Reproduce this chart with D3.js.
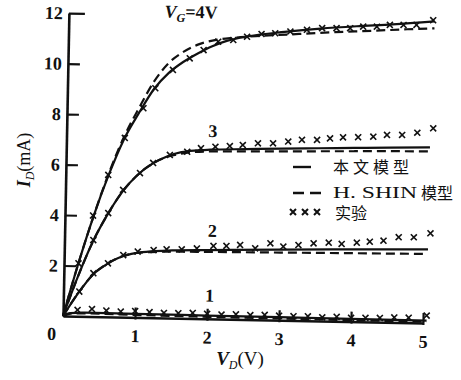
<!DOCTYPE html>
<html>
<head>
<meta charset="utf-8">
<script src="https://cdn.jsdelivr.net/npm/d3@7"></script>
<style>
  body { margin: 0; background: #fff; }
  svg { display: block; }
  text { font-family: "Liberation Serif", "DejaVu Serif", serif; fill: #111; }
  .cjk { font-family: "Noto Sans CJK SC", "Noto Sans CJK JP", sans-serif; }
</style>
</head>
<body>
<svg id="chart" width="461" height="380"></svg>
<script>
// ticks
const xTicks = [1, 2, 3, 4, 5];
const yTicks = [2, 4, 6, 8, 10, 12];

// V_G = 4V   [V_D, I_D]
const model4 = [[0,0],[0.2,2.1],[0.4,4.0],[0.6,5.65],[0.8,7.05],[1.0,8.1],[1.2,9.05],[1.4,9.7],[1.6,10.15],[1.8,10.5],[2.0,10.8],[2.2,11.02],[2.5,11.22],[3.0,11.42],[3.5,11.58],[4.0,11.7],[4.5,11.8],[5.08,11.95]];
const shin4 = [[0,0],[0.2,2.1],[0.4,4.0],[0.6,5.7],[0.8,7.15],[1.0,8.3],[1.2,9.35],[1.4,10.1],[1.6,10.55],[1.8,10.85],[2.0,11.02],[2.3,11.15],[2.7,11.25],[3.2,11.35],[3.7,11.45],[4.2,11.53],[4.7,11.62],[5.08,11.68]];
const exp4 = [[0.2,2.1],[0.39,4.0],[0.59,5.62],[0.81,7.1],[1.06,8.29],[1.22,9.09],[1.46,9.83],[1.69,10.3],[1.88,10.64],[2.08,10.98],[2.29,11.06],[2.48,11.2],[2.68,11.32],[2.87,11.36],[3.08,11.44],[3.31,11.52],[3.52,11.6],[3.72,11.61],[3.91,11.62],[4.09,11.69],[4.28,11.7],[4.46,11.78],[4.65,11.79],[4.83,11.8],[5.06,12.0]];

// curve 3
const model3 = [[0,0],[0.2,1.6],[0.4,3.0],[0.6,4.1],[0.8,5.0],[1.0,5.65],[1.2,6.1],[1.4,6.4],[1.6,6.58],[1.8,6.66],[2.0,6.7],[2.5,6.75],[3.0,6.8],[3.5,6.84],[4.0,6.88],[4.5,6.92],[5.05,6.96]];
const shin3 = [[0,0],[0.2,1.6],[0.4,3.0],[0.6,4.1],[0.8,5.0],[1.0,5.65],[1.2,6.1],[1.4,6.38],[1.6,6.52],[1.8,6.6],[2.0,6.63],[2.5,6.66],[3.0,6.69],[3.5,6.72],[4.0,6.75],[4.5,6.78],[5.05,6.8]];
const exp3 = [[0.4,3.03],[0.6,4.11],[0.8,5.04],[1.03,5.72],[1.21,6.13],[1.44,6.46],[1.68,6.6],[1.87,6.75],[2.07,6.82],[2.27,6.86],[2.45,6.91],[2.66,6.99],[2.87,7.0],[3.08,7.08],[3.27,7.16],[3.48,7.17],[3.66,7.24],[3.84,7.29],[4.05,7.31],[4.26,7.34],[4.45,7.42],[4.66,7.43],[4.87,7.53],[5.09,7.72]];

// curve 2
const model2 = [[0,0],[0.2,0.9],[0.4,1.65],[0.6,2.1],[0.8,2.4],[1.0,2.55],[1.2,2.63],[1.5,2.68],[2.0,2.72],[3.0,2.8],[4.0,2.86],[5.05,2.92]];
const shin2 = [[0,0],[0.2,0.9],[0.4,1.65],[0.6,2.1],[0.8,2.4],[1.0,2.55],[1.2,2.6],[1.5,2.63],[2.0,2.65],[3.0,2.68],[4.0,2.71],[5.05,2.74]];
const exp2 = [[0.22,0.98],[0.41,1.72],[0.61,2.12],[0.82,2.46],[1.02,2.61],[1.24,2.68],[1.42,2.72],[1.63,2.73],[1.84,2.78],[2.07,2.89],[2.25,2.9],[2.44,2.95],[2.65,2.83],[2.86,3.04],[3.04,2.92],[3.25,2.99],[3.46,3.07],[3.67,3.11],[3.85,3.07],[4.06,3.13],[4.24,3.18],[4.43,3.23],[4.64,3.38],[4.85,3.39],[5.08,3.56]];

// curve 1
const model1 = [[0,0],[0.1,0.12],[0.3,0.15],[1,0.14],[2,0.13],[3,0.12],[4,0.11],[5.05,0.1]];
const shin1 = [[0,0],[0.1,0.1],[0.3,0.12],[1,0.1],[2,0.08],[3,0.07],[4,0.06],[5.05,0.05]];
const exp1 = [[0.2,0.25],[0.4,0.3],[0.6,0.25],[0.8,0.22],[1.0,0.25],[1.2,0.22],[1.4,0.2],[1.6,0.2],[1.8,0.22],[2.0,0.2],[2.2,0.18],[2.4,0.2],[2.6,0.18],[2.8,0.2],[3.0,0.18],[3.2,0.17],[3.4,0.18],[3.6,0.15],[3.8,0.18],[4.0,0.15],[4.2,0.16],[4.4,0.17],[4.6,0.2],[4.8,0.2],[5.05,0.3]];

// curve labels [V_D, I_D, text]
const curveLabels = [[2.03, 7.2, "3"], [2.05, 3.25, "2"], [2.03, 0.68, "1"]];

const svg = d3.select("#chart");

// the scanned figure is a little tilted, so the plot is drawn rotated about the origin
const g = svg.append("g").attr("transform", "translate(63,316) rotate(1.12)");

const x = d3.scaleLinear().domain([0, 5]).range([0, 360]);
const y = d3.scaleLinear().domain([0, 12]).range([0, -303]);

// axes
const yAxis = d3.axisLeft(y).tickValues(yTicks).tickFormat(d3.format("d"))
  .tickSizeInner(-12).tickSizeOuter(0).tickPadding(6);
const xAxis = d3.axisBottom(x).tickValues(xTicks).tickFormat(d3.format("d"))
  .tickSizeInner(-10).tickSizeOuter(0).tickPadding(12);

const gy = g.append("g").call(yAxis);
const gx = g.append("g").call(xAxis);

[gy, gx].forEach(a => {
  a.attr("font-size", null).attr("font-family", null);
  a.select(".domain").attr("stroke", "#111").attr("stroke-width", 2.6);
  a.selectAll(".tick line").attr("stroke", "#111").attr("stroke-width", 2.2);
  a.selectAll(".tick text")
    .attr("fill", "#111")
    .style("font-weight", "bold")
    .style("font-size", "18px");
});
gy.selectAll(".tick").filter(d => d === 12).select("line").attr("x2", 16);
gx.selectAll(".tick line").attr("y1", 2);

g.append("text")
  .attr("x", -11).attr("y", 24)
  .attr("text-anchor", "middle")
  .style("font-weight", "bold").style("font-size", "18px")
  .text("0");

// curves
const line = d3.line().x(d => x(d[0])).y(d => y(d[1])).curve(d3.curveMonotoneX);

const models = [model4, model3, model2, model1];
const shins = [shin4, shin3, shin2, shin1];
const exps = [exp4, exp3, exp2, exp1];

g.selectAll("path.shin").data(shins).enter().append("path")
  .attr("class", "shin")
  .attr("d", line)
  .attr("fill", "none").attr("stroke", "#111")
  .attr("stroke-width", 2.2).attr("stroke-dasharray", "9,5");

g.selectAll("path.model").data(models).enter().append("path")
  .attr("class", "model")
  .attr("d", line)
  .attr("fill", "none").attr("stroke", "#111")
  .attr("stroke-width", 2.2);

const cross = "M-3,-3L3,3M-3,3L3,-3";
g.selectAll("g.exp").data(exps).enter().append("g")
  .attr("class", "exp")
  .selectAll("path").data(d => d).enter().append("path")
  .attr("transform", d => `translate(${x(d[0])},${y(d[1])})`)
  .attr("d", cross)
  .attr("stroke", "#111").attr("stroke-width", 1.6);

g.selectAll("text.clab").data(curveLabels).enter().append("text")
  .attr("class", "clab")
  .attr("x", d => x(d[0])).attr("y", d => y(d[1]))
  .attr("text-anchor", "middle")
  .style("font-weight", "bold").style("font-size", "18px")
  .text(d => d[2]);

// V_G = 4V
const vg = g.append("text")
  .attr("x", x(1.33)).attr("y", y(11.9))
  .style("font-weight", "bold").style("font-size", "18px");
vg.append("tspan").style("font-style", "italic").text("V");
vg.append("tspan").attr("dy", 4).style("font-style", "italic").style("font-size", "12px").text("G");
vg.append("tspan").attr("dy", -4).text("=4V");

// axis titles
const yl = svg.append("text")
  .attr("transform", "translate(30,160) rotate(-90)")
  .attr("text-anchor", "middle")
  .style("font-size", "18px");
yl.append("tspan").style("font-style", "italic").style("font-weight", "bold").text("I");
yl.append("tspan").attr("dy", 4).style("font-style", "italic").style("font-size", "12px").text("D");
yl.append("tspan").attr("dy", -4).text("(mA)");

const xl = svg.append("text")
  .attr("x", 240).attr("y", 365)
  .attr("text-anchor", "middle")
  .style("font-size", "19px");
xl.append("tspan").style("font-style", "italic").style("font-weight", "bold").text("V");
xl.append("tspan").attr("dy", 4).style("font-style", "italic").style("font-size", "12px").text("D");
xl.append("tspan").attr("dy", -4).text("(V)");

// legend
const leg = svg.append("g");
leg.append("line").attr("x1", 293).attr("x2", 311).attr("y1", 167).attr("y2", 167)
  .attr("stroke", "#111").attr("stroke-width", 2.4);
leg.append("text").attr("class", "cjk").attr("x", 333).attr("y", 173)
  .attr("textLength", 76).attr("lengthAdjust", "spacing")
  .style("font-size", "16px").text("本文模型");

leg.append("line").attr("x1", 293).attr("x2", 323).attr("y1", 193).attr("y2", 193)
  .attr("stroke", "#111").attr("stroke-width", 2.4).attr("stroke-dasharray", "11,6");
leg.append("text").attr("x", 333).attr("y", 198)
  .attr("textLength", 84).attr("lengthAdjust", "spacingAndGlyphs")
  .style("font-size", "16px").text("H. SHIN");
leg.append("text").attr("class", "cjk").attr("x", 421).attr("y", 199)
  .style("font-size", "16px").text("模型");

leg.selectAll("path").data([293, 305, 317]).enter().append("path")
  .attr("transform", d => `translate(${d},212)`)
  .attr("d", cross).attr("stroke", "#111").attr("stroke-width", 2);
leg.append("text").attr("class", "cjk").attr("x", 335).attr("y", 219)
  .style("font-size", "16px").text("实验");
</script>
</body>
</html>
